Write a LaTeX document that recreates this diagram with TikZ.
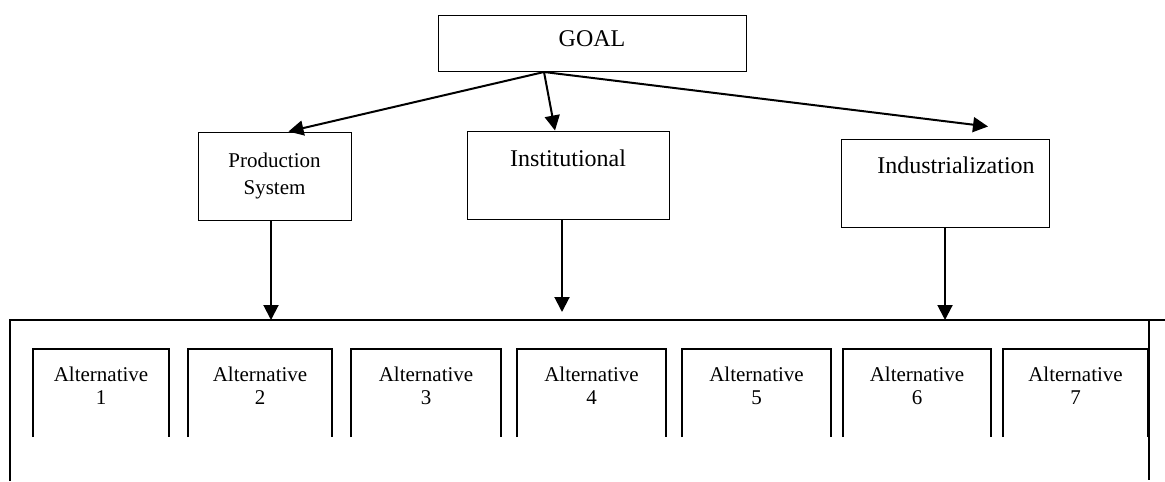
\documentclass[tikz,border=0pt]{standalone}
\usepackage{fontspec}
\setmainfont{Liberation Serif}
\usepackage{tikz}
\usetikzlibrary{arrows.meta}

\begin{document}
\begin{tikzpicture}[x=0.5pt,y=-0.5pt]
  \tikzstyle{box}=[draw,line width=0.5pt,rectangle,inner sep=0pt,font=\fontsize{12}{14}\selectfont]
  \tikzstyle{arr}=[line width=1pt,-{Triangle[length=7.5pt,width=7.5pt]}]
  \tikzstyle{alt}=[align=center,inner sep=0pt,font=\fontsize{10.5}{11.5}\selectfont]
  \useasboundingbox (0,0) rectangle (1165,481);
  % top level
  \node[box,minimum width=154pt,text height=15.5pt,text depth=12.5pt] (goal) at (592,44) {GOAL};
  \coordinate (gsrc) at (544,72);
  % criteria
  \node[box,minimum width=76.5pt,minimum height=44pt,align=center,
        font=\fontsize{10.5}{13.5}\selectfont] (prod) at (274.5,176) {Production\\System};
  \node[box,minimum width=101pt,text height=17.5pt,text depth=26.5pt] (inst) at (568,175) {Institutional\hspace{6pt}};
  \node[box,minimum width=104pt,text height=17pt,text depth=27pt] (indu) at (945,183) {\hspace{11pt}Industrialization};
  \draw[arr] (gsrc) -- ([xshift=7pt]prod.north);
  \draw[arr] (gsrc) -- ([xshift=-6.5pt]inst.north);
  \draw[arr] (gsrc) -- ([xshift=21.5pt,yshift=6pt]indu.north);
  % frame round the alternatives
  \coordinate (ftl) at (10,320);
  \coordinate (ftr) at (1165,320);
  \coordinate (fbl) at (10,481);
  \coordinate (frt) at (1149,320);
  \coordinate (frb) at (1149,480);
  \draw[line width=1pt] (fbl) -- (ftl) -- (ftr);
  \draw[line width=1pt] (frt) -- (frb);
  \draw[arr] ([xshift=-1.75pt]prod.south) -- ([xshift=-1.75pt]prod.south |- ftl);
  \draw[arr] ([xshift=-3pt]inst.south) -- ([xshift=-3pt,yshift=4pt]inst.south |- ftl);
  \draw[arr] (indu.south) -- (indu.south |- ftl);
  % alternatives
  \foreach \l/\r [count=\i] in {33/169,188/332,351/501,517/666,682/831,843/991,1003/1148} {
    \node[alt] (alt\i) at ({(\l+\r)/2},386) {Alternative\\\i};
    \draw[line width=1pt] (\l,437) |- (\r,349) -- (\r,437);
  }
\end{tikzpicture}
\end{document}
